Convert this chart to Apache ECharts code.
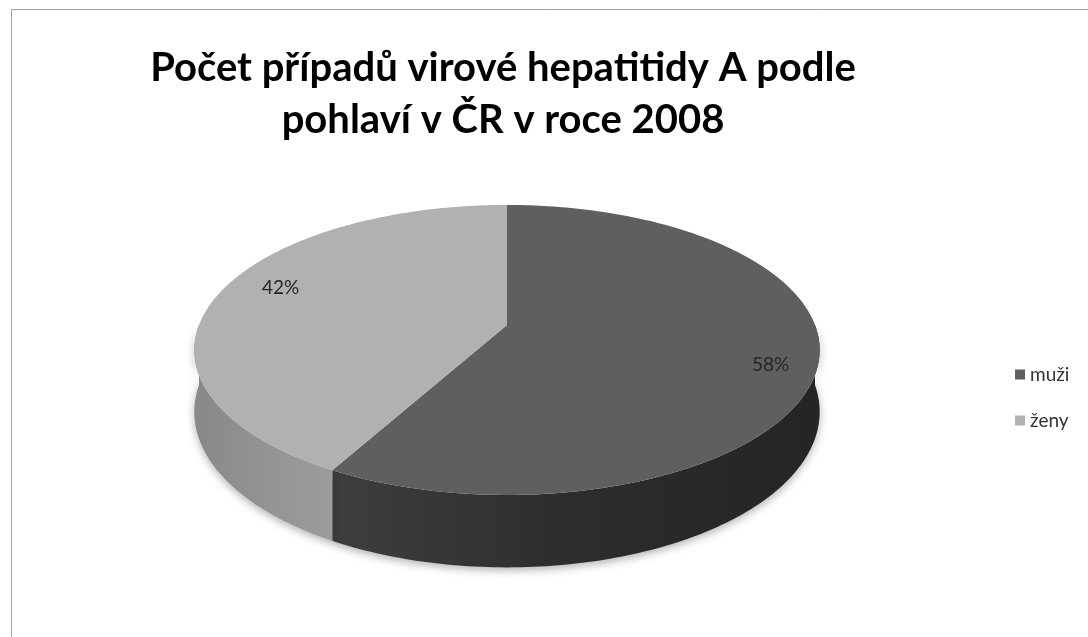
<!DOCTYPE html>
<html>
<head>
<meta charset="utf-8">
<script src="https://cdn.jsdelivr.net/npm/echarts@6/dist/echarts.min.js"></script>
<style>
  html, body { margin: 0; padding: 0; background: #fff; }
  #main { width: 1088px; height: 637px; }
</style>
</head>
<body>
<div id="main"></div>
<script>
// data
var categories = ['muži', 'ženy'];
var values = [58, 42];
var topColors = ['#5f5f5f', '#b1b1b1'];
var wallColors = [['#3e3e3e', '#2c2c2c', '#252525'], ['#888888', '#939393', '#9c9c9c']];

// pie geometry (3d look, slight perspective)
var CX = 507, CY = 325, A = 308, B = 140.7, P = 0.172, D = 60;
var RAD = Math.PI / 180;
var total = values.reduce(function (s, v) { return s + v; }, 0);

function proj(a, r) {
  var u = Math.sin(a * RAD) * r, v = -Math.cos(a * RAD) * r;
  var s = 1 / (1 - P * v);
  return [CX + A * u * s, CY + B * v * s, s];
}

// angles from a0 to a1, end included
function steps(a0, a1) {
  var out = [];
  for (var a = a0; a < a1; a += 1) out.push(a);
  out.push(a1);
  return out;
}

function renderSlice(idx) {
  return function (params, api) {
    var before = 0;
    for (var k = 0; k < idx; k++) before += values[k];
    var a0 = before / total * 360;
    var a1 = (before + values[idx]) / total * 360;
    var children = [];

    // side wall, only the front half is seen
    var w0 = Math.max(a0, 90), w1 = Math.min(a1, 270);
    if (w1 > w0) {
      var upper = [], lower = [];
      steps(w0, w1).forEach(function (a) {
        var p = proj(a, 1);
        upper.push([p[0], p[1]]);
        lower.unshift([p[0], p[1] + D * p[2]]);
      });
      var grad = {
        type: 'linear', x: 0, y: 0, x2: 1, y2: 0,
        colorStops: [
          { offset: 0, color: wallColors[idx][0] },
          { offset: 0.5, color: wallColors[idx][1] },
          { offset: 1, color: wallColors[idx][2] }
        ]
      };
      children.push({
        type: 'polygon',
        shape: { points: upper.concat(lower) },
        style: {
          fill: grad,
          shadowBlur: 8,
          shadowOffsetY: 3,
          shadowColor: 'rgba(0,0,0,0.3)'
        }
      });
    }

    // top face
    var pts = [[CX, CY]];
    steps(a0, a1).forEach(function (b) {
      var q = proj(b, 1);
      pts.push([q[0], q[1]]);
    });
    children.push({
      type: 'polygon',
      shape: { points: pts },
      style: { fill: topColors[idx] }
    });

    // label (a bit outside the mid point, like excel does)
    var m = proj((a0 + a1) / 2, 0.82);
    children.push({
      type: 'text',
      x: m[0] + 10,
      y: CY + (m[1] - CY) * 1.35,
      style: {
        text: values[idx] + '%',
        fill: '#262626',
        font: '19px Lato',
        align: 'center',
        verticalAlign: 'middle'
      }
    });
    return { type: 'group', children: children };
  };
}

var chart = echarts.init(document.getElementById('main'));
chart.setOption({
  backgroundColor: '#fff',
  animation: false,
  title: {
    text: 'Počet případů virové hepatitidy A podle\npohlaví v ČR v roce 2008',
    left: 498,
    top: 37,
    textAlign: 'center',
    textStyle: {
      fontFamily: 'Lato',
      fontWeight: 'bold',
      fontSize: 40,
      lineHeight: 52,
      color: '#000'
    }
  },
  legend: {
    orient: 'vertical',
    left: 1010,
    top: 360,
    itemGap: 27,
    itemWidth: 10,
    itemHeight: 10,
    icon: 'rect',
    textStyle: { fontFamily: 'Lato', fontSize: 19, color: '#333' },
    data: categories
  },
  graphic: [{
    type: 'rect',
    shape: { x: 11.5, y: 9.5, width: 1200, height: 700 },
    style: { fill: 'none', stroke: '#a0a0a0', lineWidth: 1 },
    silent: true
  }],
  series: categories.map(function (name, i) {
    return {
      type: 'custom',
      name: name,
      coordinateSystem: 'none',
      itemStyle: { color: topColors[i] },
      renderItem: renderSlice(i),
      data: [values[i]]
    };
  })
});
</script>
</body>
</html>
